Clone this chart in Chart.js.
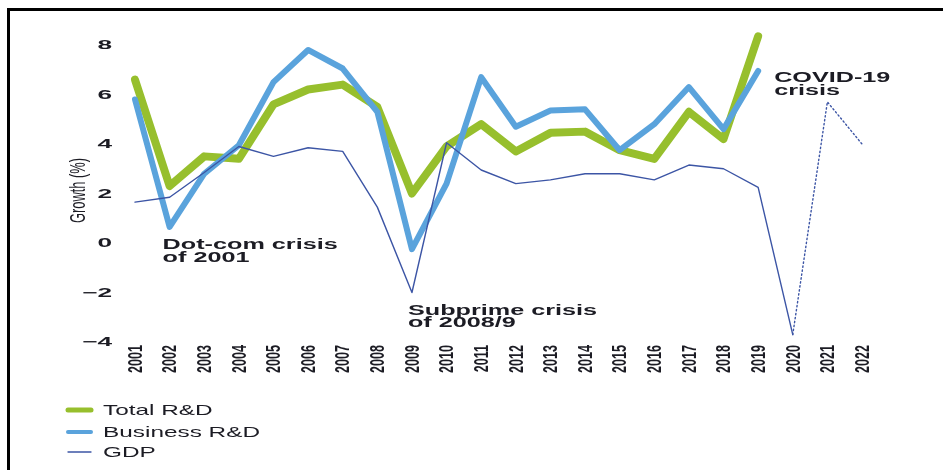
<!DOCTYPE html>
<html>
<head>
<meta charset="utf-8">
<script src="https://cdn.jsdelivr.net/npm/chart.js@4/dist/chart.umd.min.js"></script>
<style>
html,body{margin:0;padding:0;background:#fff;}
canvas{display:block;}
</style>
</head>
<body>
<canvas id="c" width="943" height="470"></canvas>
<script>
// ---- data ----
const years = ['2001','2002','2003','2004','2005','2006','2007','2008','2009','2010','2011',
               '2012','2013','2014','2015','2016','2017','2018','2019','2020','2021','2022'];
const totalRD    = [6.6, 2.3, 3.5, 3.4, 5.6, 6.2, 6.4, 5.5, 2.0, 3.9, 4.8,
                    3.7, 4.45, 4.5, 3.75, 3.4, 5.3, 4.2, 8.35, null, null, null];
const businessRD = [5.8, 0.65, 2.8, 3.95, 6.5, 7.8, 7.05, 5.3, -0.25, 2.4, 6.7,
                    4.7, 5.35, 5.4, 3.75, 4.8, 6.3, 4.6, 6.95, null, null, null];
const gdp        = [1.65, 1.85, 2.85, 3.9, 3.5, 3.85, 3.7, 1.45, -2.0, 4.05, 2.95,
                    2.4, 2.55, 2.8, 2.8, 2.55, 3.15, 3.0, 2.25, -3.7, 5.7, 4.0];
const yTickValues = [8, 6, 4, 2, 0, -2, -4];
const yTickLabels = ['8', '6', '4', '2', '0', '\u22122', '\u22124'];
const seriesNames = ['Total R&D', 'Business R&D', 'GDP'];
const yTitle = 'Growth (%)';
const notes = [
  { lines: ['Dot-com crisis', 'of 2001'], year: '2002', value: -0.25 },
  { lines: ['Subprime crisis', 'of 2008/9'], year: '2009', value: -2.9 },
  { lines: ['COVID-19', 'crisis'], year: '2019', value: 6.5 }
];
const forecastFrom = 19; // GDP segments from 2020 on are projections

// ---- styles ----
const GREEN = '#97bf2d', BLUE = '#5aa3dc', NAVY = '#3c55a5', INK = '#1c1c24';
const FONT = '"Liberation Sans", Arial, Helvetica, sans-serif';
const noteOffsets = { '2002': -7, '2009': -4, '2019': 16 };

function stretchText(ctx, text, x, y, o) {
  ctx.save();
  ctx.translate(x, y);
  ctx.scale(o.sx, 1);
  if (o.rot) ctx.rotate(o.rot);
  ctx.font = o.font;
  ctx.fillStyle = o.color || INK;
  ctx.textAlign = o.align || 'left';
  ctx.textBaseline = o.baseline || 'alphabetic';
  ctx.fillText(text, 0, 0);
  ctx.restore();
}

const decor = {
  id: 'decor',
  beforeDraw(chart) {
    const ctx = chart.ctx;
    ctx.save();
    ctx.fillStyle = '#fff';
    ctx.fillRect(0, 0, chart.width, chart.height);
    ctx.fillStyle = '#000';
    ctx.fillRect(7, 8, chart.width - 7, 3);
    ctx.fillRect(7, 8, 3, chart.height - 8);
    ctx.restore();
  },
  afterDraw(chart) {
    const ctx = chart.ctx;
    const xs = chart.scales.x, ys = chart.scales.y, area = chart.chartArea;
    // y tick labels
    yTickValues.forEach((v, i) => {
      stretchText(ctx, yTickLabels[i], area.left - 23, ys.getPixelForValue(v) + 1,
        { sx: 2.1, font: 'bold 12.5px ' + FONT, align: 'right', baseline: 'middle' });
    });
    // x tick labels (rotated)
    years.forEach((y, i) => {
      stretchText(ctx, y, xs.getPixelForValue(i) + 1, area.bottom + 3,
        { sx: 1.66, rot: -Math.PI / 2, font: 'bold 12.6px ' + FONT, align: 'right', baseline: 'middle' });
    });
    // y title
    stretchText(ctx, yTitle, area.left - 56, (area.top + area.bottom) / 2 - 3,
      { sx: 1.7, rot: -Math.PI / 2, font: '12.9px ' + FONT, align: 'center', baseline: 'middle' });
    // annotations
    notes.forEach(n => {
      const x = xs.getPixelForValue(years.indexOf(n.year)) + noteOffsets[n.year];
      const y = ys.getPixelForValue(n.value);
      n.lines.forEach((t, k) => {
        stretchText(ctx, t, x, y + k * 12.5, { sx: 1.8, font: 'bold 14px ' + FONT });
      });
    });
    // legend
    const ds = chart.data.datasets;
    const legendOrder = [0, 1, 2];
    const rows = [410, 432, 452];
    const swW = [5, 4, 1.3];
    legendOrder.forEach((di, k) => {
      ctx.save();
      ctx.strokeStyle = ds[di].borderColor;
      ctx.lineWidth = swW[k];
      ctx.lineCap = 'round';
      ctx.beginPath();
      ctx.moveTo(68, rows[k]);
      ctx.lineTo(91, rows[k]);
      ctx.stroke();
      ctx.restore();
      stretchText(ctx, ds[di].label, 103, rows[k] + 1,
        { sx: 1.68, font: '14.5px ' + FONT, baseline: 'middle' });
    });
  }
};

new Chart(document.getElementById('c'), {
  type: 'line',
  data: {
    labels: years,
    datasets: [
      { label: seriesNames[0], data: totalRD, borderColor: GREEN, borderWidth: 8, order: 3 },
      { label: seriesNames[1], data: businessRD, borderColor: BLUE, borderWidth: 6, order: 2 },
      { label: seriesNames[2], data: gdp, borderColor: NAVY, borderWidth: 1.4, order: 1,
        segment: { borderDash: c => c.p0DataIndex >= forecastFrom ? [1.4, 2.6] : undefined } }
    ].map(d => Object.assign({
      pointRadius: 0, tension: 0, fill: false, clip: false, spanGaps: false,
      borderCapStyle: 'round', borderJoinStyle: 'round'
    }, d))
  },
  options: {
    responsive: false,
    animation: false,
    devicePixelRatio: 1,
    events: [],
    layout: { padding: { left: 135, right: 81, top: 45, bottom: 128 } },
    scales: {
      x: { type: 'category', display: false, offset: false },
      y: { type: 'linear', display: false, min: -4, max: 8 }
    },
    plugins: { legend: { display: false }, tooltip: { enabled: false } }
  },
  plugins: [decor]
});
</script>
</body>
</html>
